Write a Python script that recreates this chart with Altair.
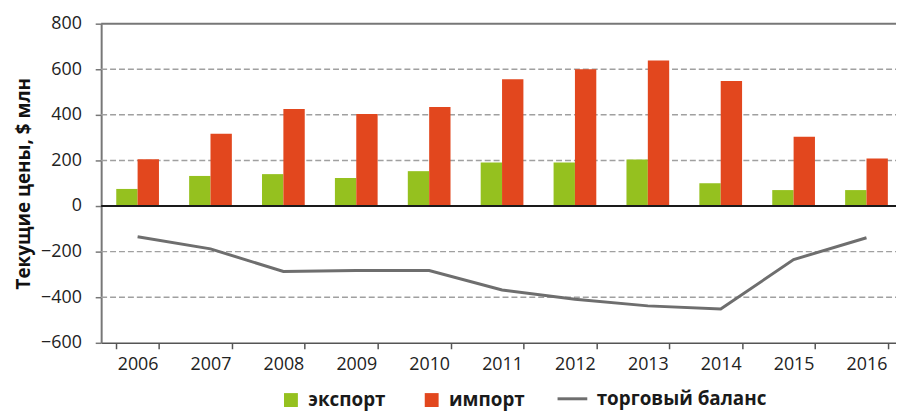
import altair as alt
import pandas as pd

years = ["2006", "2007", "2008", "2009", "2010", "2011", "2012", "2013", "2014", "2015", "2016"]
export_vals = [75, 132, 140, 123, 153, 191, 191, 204, 100, 70, 70]
import_vals = [205, 317, 426, 404, 435, 556, 600, 639, 548, 304, 209]
balance_vals = [-135, -188, -287, -283, -283, -368, -409, -438, -452, -235, -139]
y_ticks = [-600, -400, -200, 0, 200, 400, 600, 800]
grid_vals = [-400, -200, 200, 400, 600]

series_bar = ["экспорт", "импорт"]
series_line = "торговый баланс"

FONT = "Open Sans"

bars_df = pd.DataFrame(
    [{"year": y, "series": series_bar[0], "value": v} for y, v in zip(years, export_vals)]
    + [{"year": y, "series": series_bar[1], "value": v} for y, v in zip(years, import_vals)]
)
line_df = pd.DataFrame({"year": years, "series": [series_line] * len(years), "value": balance_vals})
grid_df = pd.DataFrame({"value": grid_vals})
zero_df = pd.DataFrame({"value": [0]})
top_df = pd.DataFrame({"value": [800]})

W = 794
H = 322

x_scale = alt.Scale(domain=years, range=[0, 809], paddingInner=0.414, paddingOuter=0.207)
y_scale = alt.Scale(domain=[-600, 800], nice=False)

x_axis = alt.Axis(
    title=None, tickBand="extent", labelFont=FONT, labelFontSize=18, labelColor="#222222",
    domainColor="#555555", domainWidth=1.5, tickColor="#555555", tickWidth=1.5, tickSize=6,
    labelPadding=7, grid=False, labelAngle=0,
)
y_axis = alt.Axis(
    values=y_ticks, title="Текущие цены, $ млн", titleFont=FONT, titleFontSize=19,
    titleFontWeight="bold", titleColor="#111111", titlePadding=7,
    labelFont=FONT, labelFontSize=18, labelColor="#222222", labelPadding=14,
    domainColor="#777777", domainWidth=2, tickColor="#777777", tickWidth=1.5, tickSize=6,
    grid=False, labelExpr="replace(datum.label, '-', '−')",
)

Y = alt.Y("value:Q", scale=y_scale, axis=y_axis)

grid = alt.Chart(grid_df).mark_rule(color="#a0a0a0", strokeWidth=1.5, strokeDash=[6, 3]).encode(
    y=Y, x=alt.value(0), x2=alt.value(802)
)
top = alt.Chart(top_df).mark_rule(color="#777777", strokeWidth=2).encode(
    y=Y, x=alt.value(0), x2=alt.value(802)
)

bars = alt.Chart(bars_df).mark_bar().encode(
    x=alt.X("year:N", scale=x_scale, axis=x_axis),
    xOffset=alt.XOffset("series:N", sort=series_bar, scale=alt.Scale(domain=series_bar, paddingInner=0, paddingOuter=0)),
    y=Y,
    color=alt.Color(
        "series:N",
        scale=alt.Scale(domain=series_bar, range=["#95c11f", "#e2471e"]),
        legend=alt.Legend(
            title=None, orient="none", direction="horizontal", legendX=182, legendY=370,
            symbolType="square", symbolSize=196, symbolStrokeWidth=0, symbolOpacity=1,
            labelFont=FONT, labelFontSize=19, labelFontWeight="bold", labelColor="#1a1a1a",
            labelOffset=8, columnPadding=37, padding=0, labelLimit=300,
        ),
    ),
)

zero = alt.Chart(zero_df).mark_rule(color="#1a1a1a", strokeWidth=2).encode(
    y=Y, x=alt.value(0), x2=alt.value(802)
)

line = alt.Chart(line_df).mark_line(strokeWidth=3).encode(
    x=alt.X("year:N", scale=x_scale, axis=x_axis),
    y=Y,
    stroke=alt.Stroke(
        "series:N",
        scale=alt.Scale(domain=[series_line], range=["#6e6e6e"]),
        legend=alt.Legend(
            title=None, orient="none", direction="horizontal", legendX=459, legendY=362,
            symbolType="stroke", symbolSize=900, symbolStrokeWidth=3,
            labelFont=FONT, labelFontSize=19, labelFontWeight="bold", labelColor="#1a1a1a",
            labelOffset=8, padding=0, labelLimit=300,
        ),
    ),
)

chart = alt.layer(grid, top, bars, zero, line).resolve_scale(color="independent").properties(
    width=W, height=H,
    padding={"left": 94, "top": 14, "right": 8, "bottom": 68},
    autosize=alt.AutoSizeParams(type="none"),
    background="white",
).configure_view(stroke=None)

chart.save("out.html", embed_options={"renderer": "svg", "actions": False})
